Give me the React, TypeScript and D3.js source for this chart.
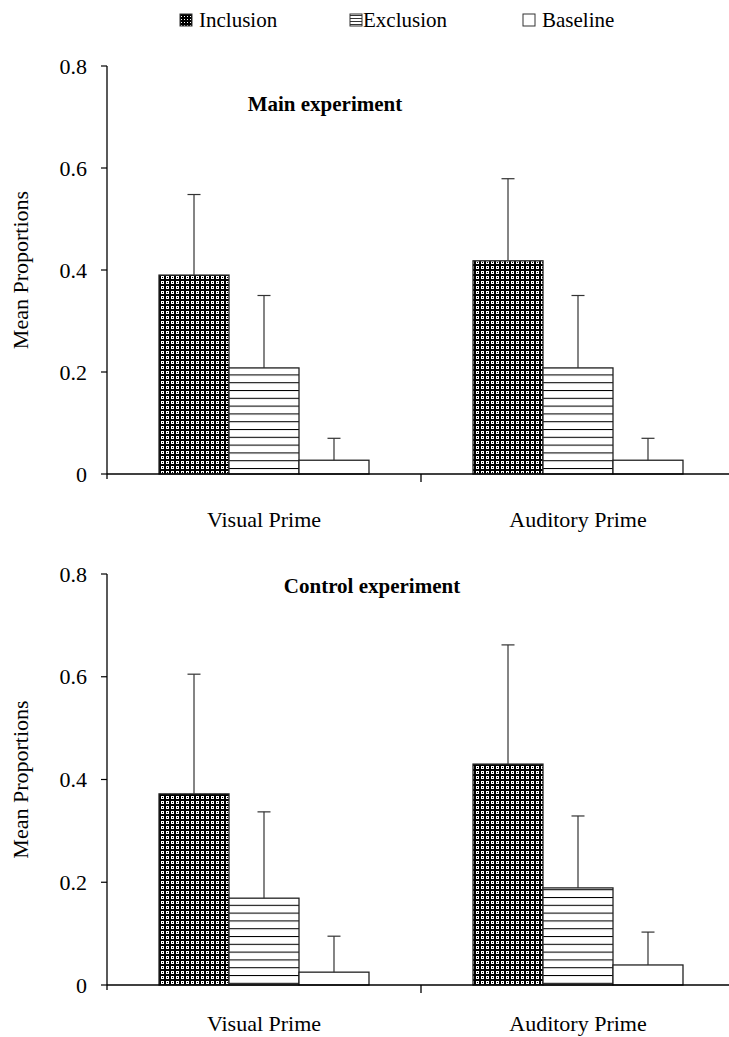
import * as d3 from "d3";

const categories = ["Visual Prime", "Auditory Prime"];
const seriesNames = ["Inclusion", "Exclusion", "Baseline"];
const yTicks = [0, 0.2, 0.4, 0.6, 0.8];

// main experiment: means and error (upper bar length)
const mainMeans = [
  [0.39, 0.208, 0.027],
  [0.418, 0.208, 0.027],
];
const mainErr = [
  [0.158, 0.142, 0.043],
  [0.161, 0.142, 0.043],
];

// control experiment
const controlMeans = [
  [0.372, 0.169, 0.025],
  [0.43, 0.189, 0.039],
];
const controlErr = [
  [0.233, 0.168, 0.07],
  [0.232, 0.14, 0.064],
];

const W = 729;
const H = 1037;
const font = "Liberation Serif";
const fills = ["url(#pat-incl)", "url(#pat-excl)", "#fff"];

const x0 = d3.scaleBand<string>().domain(categories).range([107, 735]);
const x1 = d3
  .scaleBand<string>()
  .domain(seriesNames)
  .range([0, x0.bandwidth()])
  .paddingOuter(0.743);

const Panel = ({ means, errs, top, bottom, title, titleX, titleY, labelDy }) => {
  const y = d3.scaleLinear().domain([0, 0.8]).range([bottom, top]);
  const axisLeft = x0.range()[0];
  return (
    <g>
      {/* bars */}
      {categories.map((c, ci) =>
        seriesNames.map((s, si) => {
          const v = means[ci][si];
          const bx = x0(c) + x1(s);
          return (
            <rect
              key={c + s}
              x={bx}
              y={y(v)}
              width={x1.bandwidth()}
              height={y(0) - y(v)}
              fill={fills[si]}
              stroke="#222"
              strokeWidth={1.3}
            />
          );
        })
      )}
      {/* error bars */}
      {categories.map((c, ci) =>
        seriesNames.map((s, si) => {
          const v = means[ci][si];
          const e = errs[ci][si];
          const cx = x0(c) + x1(s) + x1.bandwidth() / 2;
          return (
            <g key={"e" + c + s} stroke="#333" strokeWidth={1.2}>
              <line x1={cx} x2={cx} y1={y(v)} y2={y(v + e)} />
              <line x1={cx - 6.5} x2={cx + 6.5} y1={y(v + e)} y2={y(v + e)} />
            </g>
          );
        })
      )}
      {/* y axis */}
      <line x1={axisLeft} x2={axisLeft} y1={y(0.8)} y2={y(0) + 5} stroke="#000" strokeWidth={1.3} />
      {yTicks.map((t) => (
        <g key={t}>
          <line x1={axisLeft - 6} x2={axisLeft} y1={y(t)} y2={y(t)} stroke="#000" strokeWidth={1.2} />
          <text
            x={axisLeft - 20}
            y={y(t)}
            dy="0.35em"
            textAnchor="end"
            fontSize={22}
            fontFamily={font}
          >
            {t === 0 ? "0" : t.toFixed(1)}
          </text>
        </g>
      ))}
      {/* x axis */}
      <line x1={axisLeft} x2={W + 10} y1={y(0)} y2={y(0)} stroke="#000" strokeWidth={1.5} />
      <line
        x1={x0(categories[1])}
        x2={x0(categories[1])}
        y1={y(0)}
        y2={y(0) + 8}
        stroke="#000"
        strokeWidth={1.3}
      />
      {categories.map((c) => (
        <text
          key={c}
          x={x0(c) + x0.bandwidth() / 2}
          y={y(0) + labelDy}
          textAnchor="middle"
          fontSize={22}
          fontFamily={font}
        >
          {c}
        </text>
      ))}
      <text
        transform={`translate(28, ${(y(0) + y(0.8)) / 2}) rotate(-90)`}
        textAnchor="middle"
        fontSize={22}
        fontFamily={font}
      >
        Mean Proportions
      </text>
      <text
        x={titleX}
        y={titleY}
        textAnchor="middle"
        fontSize={21}
        fontWeight="bold"
        fontFamily={font}
      >
        {title}
      </text>
    </g>
  );
};

export default function App() {
  const legendX = [180, 350, 523];
  return (
    <svg
      width={W}
      height={H}
      style={{ position: "absolute", left: 0, top: 0, background: "#fff" }}
    >
      <defs>
        <pattern id="pat-incl" patternUnits="userSpaceOnUse" width={5} height={5}>
          <rect width={5} height={5} fill="#000" />
          <rect x={1} y={1} width={3} height={3} fill="#fff" />
          <rect x={2} y={2} width={1} height={1} fill="#000" />
        </pattern>
        <pattern id="pat-excl" patternUnits="userSpaceOnUse" width={8} height={7.8}>
          <rect width={8} height={7.8} fill="#fff" />
          <line x1={0} x2={8} y1={0.5} y2={0.5} stroke="#000" strokeWidth={1.1} />
        </pattern>
        <pattern id="pat-excl-small" patternUnits="userSpaceOnUse" width={4} height={3}>
          <rect width={4} height={3} fill="#fff" />
          <line x1={0} x2={4} y1={0.5} y2={0.5} stroke="#333" strokeWidth={1} />
        </pattern>
        <pattern id="pat-incl-small" patternUnits="userSpaceOnUse" width={3} height={3}>
          <rect width={3} height={3} fill="#000" />
          <rect x={1} y={1} width={1} height={1} fill="#fff" />
        </pattern>
      </defs>

      {/* legend */}
      {seriesNames.map((s, i) => (
        <g key={s}>
          <rect
            x={legendX[i]}
            y={14}
            width={12}
            height={12}
            fill={i === 0 ? "url(#pat-incl-small)" : i === 1 ? "url(#pat-excl-small)" : "#fff"}
            stroke="#333"
            strokeWidth={1}
          />
          <text
            x={legendX[i] + (i === 1 ? 13 : 19)}
            y={27}
            fontSize={21}
            fontFamily={font}
          >
            {s}
          </text>
        </g>
      ))}

      <Panel
        means={mainMeans}
        errs={mainErr}
        top={66}
        bottom={474}
        title="Main experiment"
        titleX={325}
        titleY={111}
        labelDy={53}
      />
      <Panel
        means={controlMeans}
        errs={controlErr}
        top={574}
        bottom={985}
        title="Control experiment"
        titleX={372}
        titleY={593}
        labelDy={46}
      />
    </svg>
  );
}
